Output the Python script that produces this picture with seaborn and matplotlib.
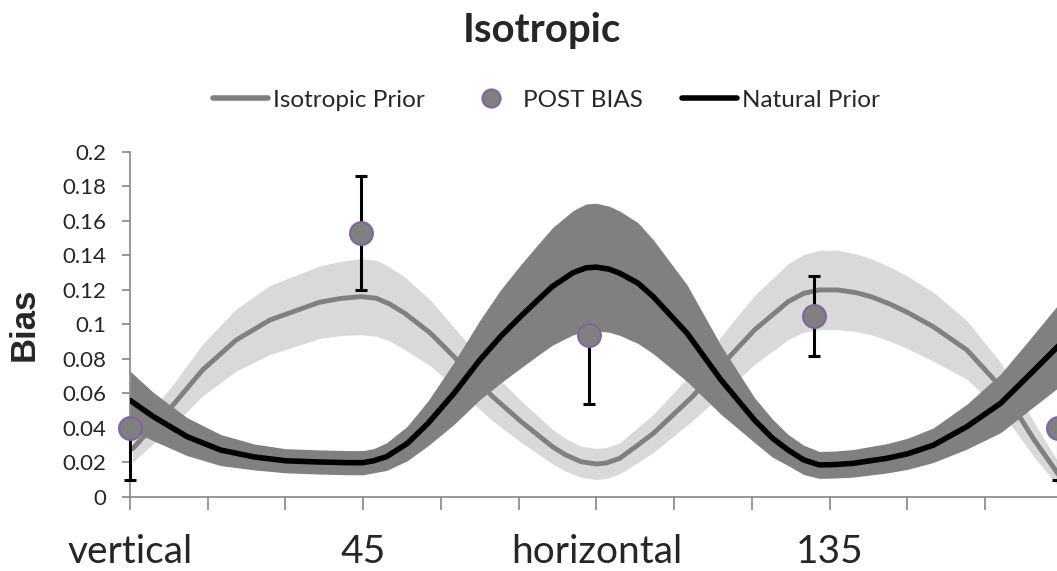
import numpy as np
import matplotlib
matplotlib.use("Agg")
import matplotlib.pyplot as plt
import seaborn as sns
from matplotlib.lines import Line2D

# orientation in degrees
natural_x = [0, 4.5, 11, 17.5, 24, 30, 36.5, 42, 45, 47, 49.5, 53.5, 57.5, 62.5,
             67.5, 71.5, 75.5, 78.5, 81.5, 85.5, 88, 90, 92.5, 94.5, 98, 101,
             107.5, 114, 120.5, 124, 127, 130, 133, 136, 139.5, 146, 150, 155,
             161.5, 168, 174.5, 179, 180]
natural_y = [0.056, 0.0466, 0.035, 0.0272, 0.0232, 0.021, 0.0203, 0.0199, 0.0199,
             0.021, 0.0234, 0.031, 0.0427, 0.060, 0.0794, 0.093, 0.105, 0.1136,
             0.122, 0.130, 0.1328, 0.1332, 0.132, 0.1297, 0.124, 0.116, 0.0949,
             0.068, 0.0446, 0.034, 0.0272, 0.0215, 0.0186, 0.0188, 0.0195, 0.0224,
             0.025, 0.030, 0.0408, 0.0543, 0.0736, 0.0871, 0.091]
natural_err = [0.017, 0.014, 0.011, 0.009, 0.0075, 0.007, 0.007, 0.007, 0.007,
               0.007, 0.008, 0.010, 0.013, 0.018, 0.023, 0.027, 0.030, 0.032,
               0.034, 0.036, 0.037, 0.037, 0.0365, 0.036, 0.035, 0.033, 0.028,
               0.020, 0.013, 0.011, 0.009, 0.0085, 0.0078, 0.0078, 0.008, 0.0085,
               0.009, 0.010, 0.013, 0.017, 0.021, 0.024, 0.025]

iso_x = [0.5, 8.5, 14, 20.5, 27, 36.5, 40.5, 44.5, 47.5, 50, 53, 58, 62.5, 70,
         75.5, 81.5, 84, 87, 90, 92, 94.5, 97.5, 101, 108.5, 116, 120.5, 127,
         130, 133, 136.5, 140, 143, 146.5, 150, 155, 161.5, 168, 174.5, 179, 180]
iso_y = [0.028, 0.054, 0.0736, 0.091, 0.1026, 0.1128, 0.115, 0.1161, 0.1152,
         0.112, 0.1065, 0.0949, 0.0813, 0.0581, 0.0436, 0.0292, 0.0245, 0.0205,
         0.0191, 0.0198, 0.0224, 0.029, 0.0369, 0.0581, 0.0823, 0.0968, 0.1132,
         0.118, 0.120, 0.120, 0.1185, 0.1161, 0.112, 0.107, 0.0987, 0.0852,
         0.0639, 0.033, 0.0137, 0.010]
iso_err = [0.008, 0.012, 0.015, 0.018, 0.020, 0.021, 0.0215, 0.022, 0.022,
           0.0215, 0.021, 0.019, 0.017, 0.014, 0.012, 0.010, 0.0095, 0.009,
           0.009, 0.009, 0.009, 0.010, 0.011, 0.014, 0.018, 0.020, 0.022,
           0.0225, 0.023, 0.023, 0.0225, 0.022, 0.0215, 0.021, 0.020, 0.017,
           0.014, 0.010, 0.007, 0.007]

post_x = [0, 44.5, 88.5, 132, 179]
post_y = [0.04, 0.153, 0.094, 0.105, 0.04]
post_err_low = [0.03, 0.033, 0.04, 0.023, 0.03]
post_err_high = [0, 0.033, 0, 0.023, 0]

tick_pos = list(range(0, 181, 15))
tick_names = {0: "vertical", 45: "45", 90: "horizontal", 135: "135"}

sns.set_theme(style="white")
plt.rcParams['font.family'] = ['Lato', 'DejaVu Sans']

fig = plt.figure(figsize=(10.57, 5.71), dpi=100)
ax = fig.add_axes([0.123, 0.1296, 0.8825, 0.6044])

nat_y = np.array(natural_y)
nat_e = np.array(natural_err)
iso = np.array(iso_y)
iso_e = np.array(iso_err)

ax.fill_between(iso_x, iso - iso_e, iso + iso_e, color="#D9D9D9", lw=0, zorder=1)
sns.lineplot(x=iso_x, y=iso_y, ax=ax, color="#808080", lw=3.5, zorder=2,
             estimator=None, sort=False)
ax.fill_between(natural_x, nat_y - nat_e, nat_y + nat_e, color="#808080", lw=0, zorder=3)
sns.lineplot(x=natural_x, y=natural_y, ax=ax, color="black", lw=4, zorder=4,
             estimator=None, sort=False)

ax.errorbar(post_x, post_y, yerr=[post_err_low, post_err_high], fmt="none",
            ecolor="black", elinewidth=2.2, capsize=4.5, capthick=2.2,
            zorder=5, clip_on=False)
sns.scatterplot(x=post_x, y=post_y, ax=ax, s=270, color="#808080",
                edgecolor="#8064A2", linewidth=1.5, zorder=6, clip_on=False)

ax.set_xlim(0, 180)
ax.set_ylim(0, 0.2)
ax.set_xticks(tick_pos)
ax.set_xticklabels([tick_names.get(t, "") for t in tick_pos])
yt = np.arange(0, 0.201, 0.02)
ax.set_yticks(yt)
ax.set_yticklabels(["%g" % round(v, 2) for v in yt])

for s in ["top", "right"]:
    ax.spines[s].set_visible(False)
for s in ["left", "bottom"]:
    ax.spines[s].set_color("#868686")
    ax.spines[s].set_linewidth(1.2)
ax.tick_params(axis="x", direction="out", length=9.5, width=1.2, color="#868686",
               pad=17, bottom=True, labelsize=28)
ax.tick_params(axis="y", direction="out", length=6, width=1.2, color="#868686",
               pad=11, left=True, labelsize=16)

ax.set_ylabel("Bias", fontsize=25, fontweight="bold", family="Liberation Sans")
ax.yaxis.set_label_coords(-0.096, 0.5)

fig.text(0.513, 1 - 42 / 571, "Isotropic", ha="center", va="baseline",
         fontsize=29, fontweight="bold")

handles = [
    Line2D([], [], color="#808080", lw=4),
    Line2D([], [], ls="none", marker="o", markersize=13, markerfacecolor="#808080",
           markeredgecolor="#8064A2", markeredgewidth=1.5),
    Line2D([], [], color="black", lw=4),
]
fig.legend(handles, ["Isotropic Prior", "POST BIAS", "Natural Prior"],
           loc="center", bbox_to_anchor=(0.517, 1 - 100 / 571), ncol=3,
           frameon=False, fontsize=17.5, handlelength=2.26, handletextpad=0.2,
           columnspacing=1.6)

plt.savefig("out.png", dpi=100)
plt.close()
